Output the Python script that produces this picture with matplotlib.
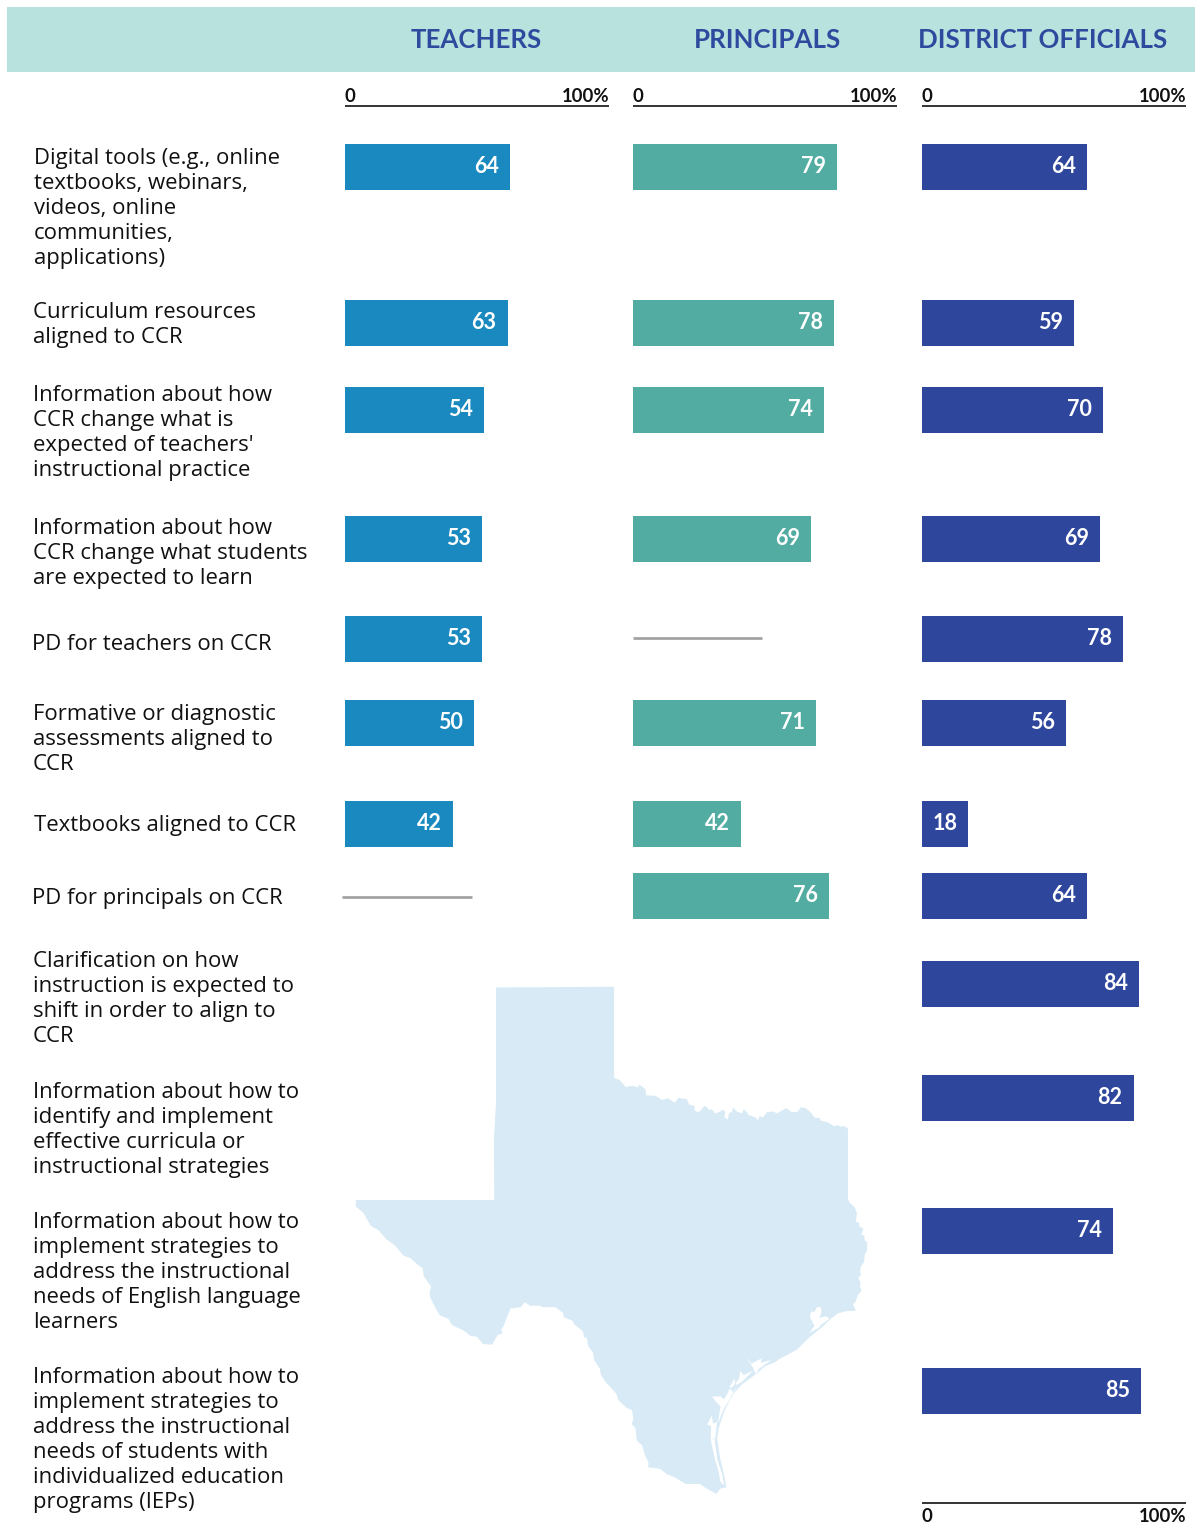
import matplotlib
matplotlib.use("Agg")
import matplotlib.pyplot as plt
from matplotlib.patches import Polygon, Rectangle

W, H = 1195, 1526

# ---- data ----
labels = [
    "Digital tools (e.g., online\ntextbooks, webinars,\nvideos, online\ncommunities,\napplications)",
    "Curriculum resources\naligned to CCR",
    "Information about how\nCCR change what is\nexpected of teachers'\ninstructional practice",
    "Information about how\nCCR change what students\nare expected to learn",
    "PD for teachers on CCR",
    "Formative or diagnostic\nassessments aligned to\nCCR",
    "Textbooks aligned to CCR",
    "PD for principals on CCR",
    "Clarification on how\ninstruction is expected to\nshift in order to align to\nCCR",
    "Information about how to\nidentify and implement\neffective curricula or\ninstructional strategies",
    "Information about how to\nimplement strategies to\naddress the instructional\nneeds of English language\nlearners",
    "Information about how to\nimplement strategies to\naddress the instructional\nneeds of students with\nindividualized education\nprograms (IEPs)",
]
teachers = [64, 63, 54, 53, 53, 50, 42, None, None, None, None, None]
principals = [79, 78, 74, 69, None, 71, 42, 76, None, None, None, None]
district = [64, 59, 70, 69, 78, 56, 18, 64, 84, 82, 74, 85]
headers = ["TEACHERS", "PRINCIPALS", "DISTRICT OFFICIALS"]
not_asked_teachers = 7   # row with grey rule
not_asked_principals = 4

# ---- layout (pixels) ----
row_y = [167, 323, 410, 539, 639, 723, 824, 896, 984, 1098, 1231, 1391]
label_base = [164, 318, 401, 534, 650, 720, 831, 904, 967, 1098, 1228, 1383]
label_x = [34, 33, 33, 33, 32, 33, 34, 32, 33, 33, 33, 33]
LINE_STEP = 25
panel_x = [345, 633, 922]
PANEL_W = 258
BAR_H = 46
colors = ["#1989BF", "#52ACA1", "#2E479D"]
NAVY = "#2E4A9E"
BODY = "Open Sans"
NUM = "Lato"

fig = plt.figure(figsize=(W / 100, H / 100), dpi=100)
bg = fig.add_axes([0, 0, 1, 1])
bg.set_xlim(0, W)
bg.set_ylim(H, 0)
bg.axis("off")

bg.add_patch(Rectangle((7, 7), 1188, 65, fc="#B8E2DD", ec="none"))
for cx, h in zip([476, 768, 1042.5], headers):
    bg.text(cx, 40.5, h, color=NAVY, fontsize=18.6, family=NUM, weight="bold", ha="center", va="center")

# Texas silhouette (decorative backdrop, traced outline)
tx = [(453,77),(796,75),(796,330),(812,336),(830,356),(850,352),(865,357),(870,349),(887,362),(889,379),(915,380),(935,392),(952,387),(972,400),(983,386),(1008,390),(1014,405),(1030,409),(1029,420),(1041,427),(1060,408),(1072,420),(1080,418),(1090,430),(1105,424),(1112,419),(1119,426),(1116,440),(1126,447),(1130,428),(1138,426),(1141,413),(1152,424),(1168,430),(1172,418),(1183,427),(1185,434),(1205,440),(1214,449),(1218,437),(1228,441),(1240,426),(1260,424),(1268,430),(1295,415),(1312,426),(1330,425),(1337,413),(1352,414),(1368,428),(1378,441),(1394,443),(1396,450),(1415,454),(1435,465),(1448,463),(1453,467),(1465,465),(1475,472),(1475,670),(1480,680),(1494,692),(1501,708),(1498,733),(1508,737),(1507,745),(1520,753),(1514,768),(1522,772),(1524,785),(1531,790),(1530,815),(1524,825),(1522,845),(1512,860),(1510,875),(1514,882),(1505,888),(1512,905),(1510,915),(1515,925),(1503,940),(1498,955),(1490,965),(1498,982),(1470,983),(1445,990),(1425,1005),(1395,1032),(1365,1055),(1340,1078),(1328,1090),(1300,1105),(1280,1115),(1262,1127),(1235,1137),(1207,1160),(1165,1190),(1140,1218),(1115,1265),(1100,1310),(1095,1340),(1105,1400),(1115,1440),(1122,1476),(1105,1480),(1093,1495),(1065,1480),(1045,1467),(1003,1467),(975,1450),(950,1440),(930,1425),(895,1420),(896,1408),(885,1385),(878,1360),(862,1345),(858,1310),(847,1300),(852,1285),(848,1260),(833,1255),(808,1232),(803,1215),(770,1180),(757,1160),(755,1145),(738,1120),(735,1100),(720,1080),(718,1060),(708,1055),(706,1040),(680,1020),(675,1010),(650,1000),(648,988),(625,972),(590,972),(580,968),(552,968),(537,958),(525,972),(495,976),(487,995),(475,1025),(468,1035),(472,1045),(458,1050),(442,1077),(415,1075),(398,1055),(378,1052),(360,1038),(325,1022),(315,1005),(290,995),(275,970),(262,945),(260,930),(265,915),(243,885),(240,863),(228,855),(205,835),(185,828),(160,800),(135,782),(110,755),(90,745),(68,708),(46,690),(46,672),(448,672),(447,500),(453,400)]
bays = [
    [(1362,1044),(1378,1025),(1364,998),(1368,985),(1378,985),(1385,972),(1397,972),(1398,985),(1392,1003),(1410,997),(1422,1004),(1396,1022),(1390,1030)],
    [(1178,1112),(1195,1130),(1225,1115),(1222,1128),(1252,1120),(1215,1146),(1207,1160),(1200,1142)],
    [(1162,1150),(1172,1162),(1200,1150),(1165,1183),(1150,1190),(1145,1172),(1132,1195),(1140,1210),(1158,1190),(1135,1222),(1128,1206),(1145,1190),(1160,1170)],
    [(1080,1222),(1105,1222),(1115,1230),(1130,1206),(1135,1225),(1112,1262),(1097,1300),(1105,1250),(1090,1235)],
    [(1066,1300),(1080,1276),(1083,1298),(1095,1294),(1090,1340),(1076,1340),(1078,1306)],
    [(1076,1340),(1088,1342),(1096,1400),(1110,1440),(1116,1472),(1104,1460),(1100,1435),(1088,1395)],
]
def px(p):
    return [(x / 2.904 + 340, y / 2.8 + 960) for x, y in p]
bg.add_patch(Polygon(px(tx), closed=True, fc="#D7EAF5", ec="none", zorder=1))
for b in bays:
    bg.add_patch(Polygon(px(b), closed=True, fc="white", ec="none", zorder=2))

# row labels, one text per line so the line step is exact
for txt, x0, base in zip(labels, label_x, label_base):
    for i, line in enumerate(txt.split("\n")):
        bg.text(x0, base + i * LINE_STEP, line, fontsize=15.9, family=BODY, color="#111111",
                ha="left", va="baseline", zorder=5)

def scale(ypx, x0, x1):
    bg.plot([x0, x1], [ypx, ypx], color="#111111", lw=1.2, solid_capstyle="butt", zorder=5)

# panels drawn through their own value scales
for left, vals, col in zip(panel_x, [teachers, principals, district], colors):
    ax = fig.add_axes([left / W, 0, PANEL_W / W, 1], facecolor="none")
    ax.set_xlim(0, 100)
    ax.set_ylim(H, 0)
    ax.axis("off")
    for v, y in zip(vals, row_y):
        if v is None:
            continue
        ax.barh(y, v, height=BAR_H, color=col, edgecolor="none", zorder=3)
        ax.annotate(str(v), (v, y), xytext=(-8, 0.5), textcoords="offset points", color="white",
                    fontsize=15.5, family=NUM, weight="bold", ha="right", va="center", zorder=4)
    if vals is teachers:
        ax.plot([-1.2, 49.4], [row_y[not_asked_teachers] + 1] * 2, color="#A3A3A5", lw=2,
                solid_capstyle="butt", clip_on=False)
    if vals is principals:
        ax.plot([0, 50], [row_y[not_asked_principals] - 1] * 2, color="#A3A3A5", lw=2, solid_capstyle="butt")
    scale(106, left, left + 264)
    bg.text(left, 97, "0", fontsize=13.3, family=NUM, weight="bold", ha="left", va="center", color="#111111")
    bg.text(left + 264, 97, "100%", fontsize=13.3, family=NUM, weight="bold", ha="right", va="center", color="#111111")

scale(1503, panel_x[2], panel_x[2] + 264)
bg.text(panel_x[2], 1516, "0", fontsize=13.3, family=NUM, weight="bold", ha="left", va="center", color="#111111")
bg.text(panel_x[2] + 264, 1516, "100%", fontsize=13.3, family=NUM, weight="bold", ha="right", va="center", color="#111111")

fig.savefig("out.png", dpi=100, facecolor="white")
